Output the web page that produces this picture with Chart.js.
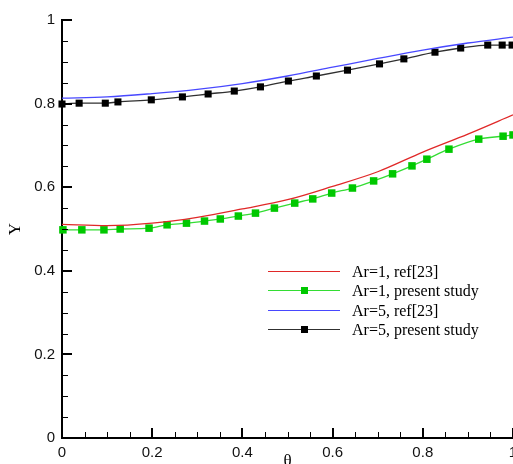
<!DOCTYPE html>
<html><head><meta charset="utf-8">
<script src="https://cdn.jsdelivr.net/npm/chart.js@4"></script>
<style>html,body{margin:0;padding:0;background:#fff;overflow:hidden}</style>
</head><body>
<canvas id="c" width="513" height="464"></canvas>
<script>
// ---- data ----
const seriesNames = ['Ar=1, ref[23]', 'Ar=1, present study', 'Ar=5, ref[23]', 'Ar=5, present study'];
const refTheta = [0, 0.1, 0.2, 0.3, 0.4, 0.5, 0.6, 0.7, 0.8, 0.9, 1.0];
const ar1Ref = [0.511, 0.508, 0.514, 0.528, 0.548, 0.570, 0.602, 0.637, 0.684, 0.727, 0.773];
const ar5Ref = [0.813, 0.816, 0.824, 0.834, 0.848, 0.866, 0.887, 0.908, 0.928, 0.945, 0.959];
const ar1StudyTheta = [0.002, 0.044, 0.093, 0.129, 0.193, 0.233, 0.276, 0.316, 0.351, 0.391, 0.429, 0.471,
  0.516, 0.556, 0.598, 0.644, 0.691, 0.733, 0.776, 0.809, 0.858, 0.924, 0.978, 1.0];
const ar1StudyY = [0.498, 0.498, 0.498, 0.500, 0.502, 0.510, 0.514, 0.519, 0.524, 0.531, 0.538, 0.550,
  0.562, 0.572, 0.586, 0.598, 0.615, 0.632, 0.651, 0.667, 0.691, 0.715, 0.722, 0.725];
const ar5StudyTheta = [0, 0.038, 0.096, 0.124, 0.198, 0.267, 0.324, 0.382, 0.440, 0.502, 0.564, 0.633,
  0.704, 0.758, 0.827, 0.884, 0.944, 0.976, 0.998];
const ar5StudyY = [0.799, 0.801, 0.801, 0.804, 0.809, 0.816, 0.823, 0.830, 0.840, 0.854, 0.866, 0.880,
  0.895, 0.907, 0.923, 0.933, 0.940, 0.940, 0.940];
const axisMin = 0, axisMax = 1, majorStep = 0.2, minorStep = 0.05;
const xTitle = 'θ', yTitle = 'Y';

const pts = (xs, ys) => xs.map((x, i) => ({x, y: ys[i]}));
const fmt = v => String(Math.round(v * 10) / 10);

const inwardTicks = {
  id: 'inwardTicks',
  afterDatasetsDraw(chart) {
    const {ctx, chartArea: a, scales: {x, y}} = chart;
    ctx.save();
    ctx.strokeStyle = '#000';
    const n = Math.round((axisMax - axisMin) / minorStep);
    for (let i = 1; i <= n; i++) {
      const v = axisMin + i * minorStep;
      const major = i % Math.round(majorStep / minorStep) === 0;
      const len = major ? 10 : 6;
      ctx.lineWidth = major ? 2 : 1;
      const px = Math.round(x.getPixelForValue(v)) + (major ? 0 : 0.5);
      ctx.beginPath(); ctx.moveTo(px, a.bottom); ctx.lineTo(px, a.bottom - len); ctx.stroke();
      const py = Math.round(y.getPixelForValue(v)) + (major ? 0 : 0.5);
      ctx.beginPath(); ctx.moveTo(a.left, py); ctx.lineTo(a.left + len, py); ctx.stroke();
    }
    ctx.restore();
  }
};

const legendBox = {
  id: 'legendBox',
  afterDraw(chart) {
    const ctx = chart.ctx;
    ctx.save();
    chart.data.datasets.forEach((ds, i) => {
      const yy = Math.round(271 + i * 19.4) + 0.5;
      ctx.strokeStyle = ds.borderColor;
      ctx.lineWidth = 1.2;
      ctx.beginPath(); ctx.moveTo(268, yy); ctx.lineTo(340, yy); ctx.stroke();
      if (ds.pointRadius > 0) {
        ctx.fillStyle = ds.pointBackgroundColor;
        ctx.fillRect(301, yy - 3.5, 7, 7);
      }
      ctx.fillStyle = '#000';
      ctx.font = '16px "Liberation Serif"';
      ctx.textBaseline = 'middle';
      ctx.textAlign = 'left';
      ctx.fillText(ds.label, 352, yy + 1);
    });
    ctx.restore();
  }
};

new Chart(document.getElementById('c'), {
  type: 'scatter',
  data: {
    datasets: [
      {label: seriesNames[0], data: pts(refTheta, ar1Ref), showLine: true, borderColor: '#e02828',
        borderWidth: 1.3, pointRadius: 0, cubicInterpolationMode: 'monotone', clip: false},
      {label: seriesNames[1], data: pts(ar1StudyTheta, ar1StudyY), showLine: true, borderColor: '#33dd33',
        borderWidth: 1.3, pointStyle: 'rect', pointRadius: 5.3, pointBackgroundColor: '#00c800',
        pointBorderWidth: 0, pointBorderColor: '#00c800', cubicInterpolationMode: 'monotone', clip: false},
      {label: seriesNames[2], data: pts(refTheta, ar5Ref), showLine: true, borderColor: '#4848ff',
        borderWidth: 1.3, pointRadius: 0, cubicInterpolationMode: 'monotone', clip: false},
      {label: seriesNames[3], data: pts(ar5StudyTheta, ar5StudyY), showLine: true, borderColor: '#303030',
        borderWidth: 1.3, pointStyle: 'rect', pointRadius: 5, pointBackgroundColor: '#000',
        pointBorderWidth: 0, pointBorderColor: '#000', cubicInterpolationMode: 'monotone', clip: false}
    ]
  },
  options: {
    responsive: false,
    animation: false,
    devicePixelRatio: 1,
    layout: {autoPadding: false, padding: {top: 20, left: 0, right: 0, bottom: 0}},
    plugins: {legend: {display: false}, tooltip: {enabled: false}},
    elements: {point: {hoverRadius: 5}},
    scales: {
      x: {
        type: 'linear', min: axisMin, max: axisMax,
        grid: {display: false, drawTicks: false},
        border: {display: true, color: '#000', width: 2},
        ticks: {stepSize: majorStep, padding: 6, color: '#111', font: {family: '"Liberation Sans"', size: 15}, callback: fmt},
        title: {display: true, text: xTitle, color: '#000', font: {family: '"Liberation Serif"', size: 17, lineHeight: 0.3}, padding: 0},
        afterFit(s) { s.height = 26; s.paddingRight = 0; s.paddingLeft = 0; }
      },
      y: {
        type: 'linear', min: axisMin, max: axisMax,
        grid: {display: false, drawTicks: false},
        border: {display: true, color: '#000', width: 2},
        ticks: {stepSize: majorStep, padding: 7, color: '#111', font: {family: '"Liberation Sans"', size: 15}, callback: fmt},
        title: {display: true, text: yTitle, color: '#000', font: {family: '"Liberation Serif"', size: 17, lineHeight: 1}, padding: {top: 7, bottom: 0}},
        afterFit(s) { s.width = 62; s.paddingTop = 0; s.paddingBottom = 0; }
      }
    }
  },
  plugins: [inwardTicks, legendBox]
});
</script>
</body></html>
